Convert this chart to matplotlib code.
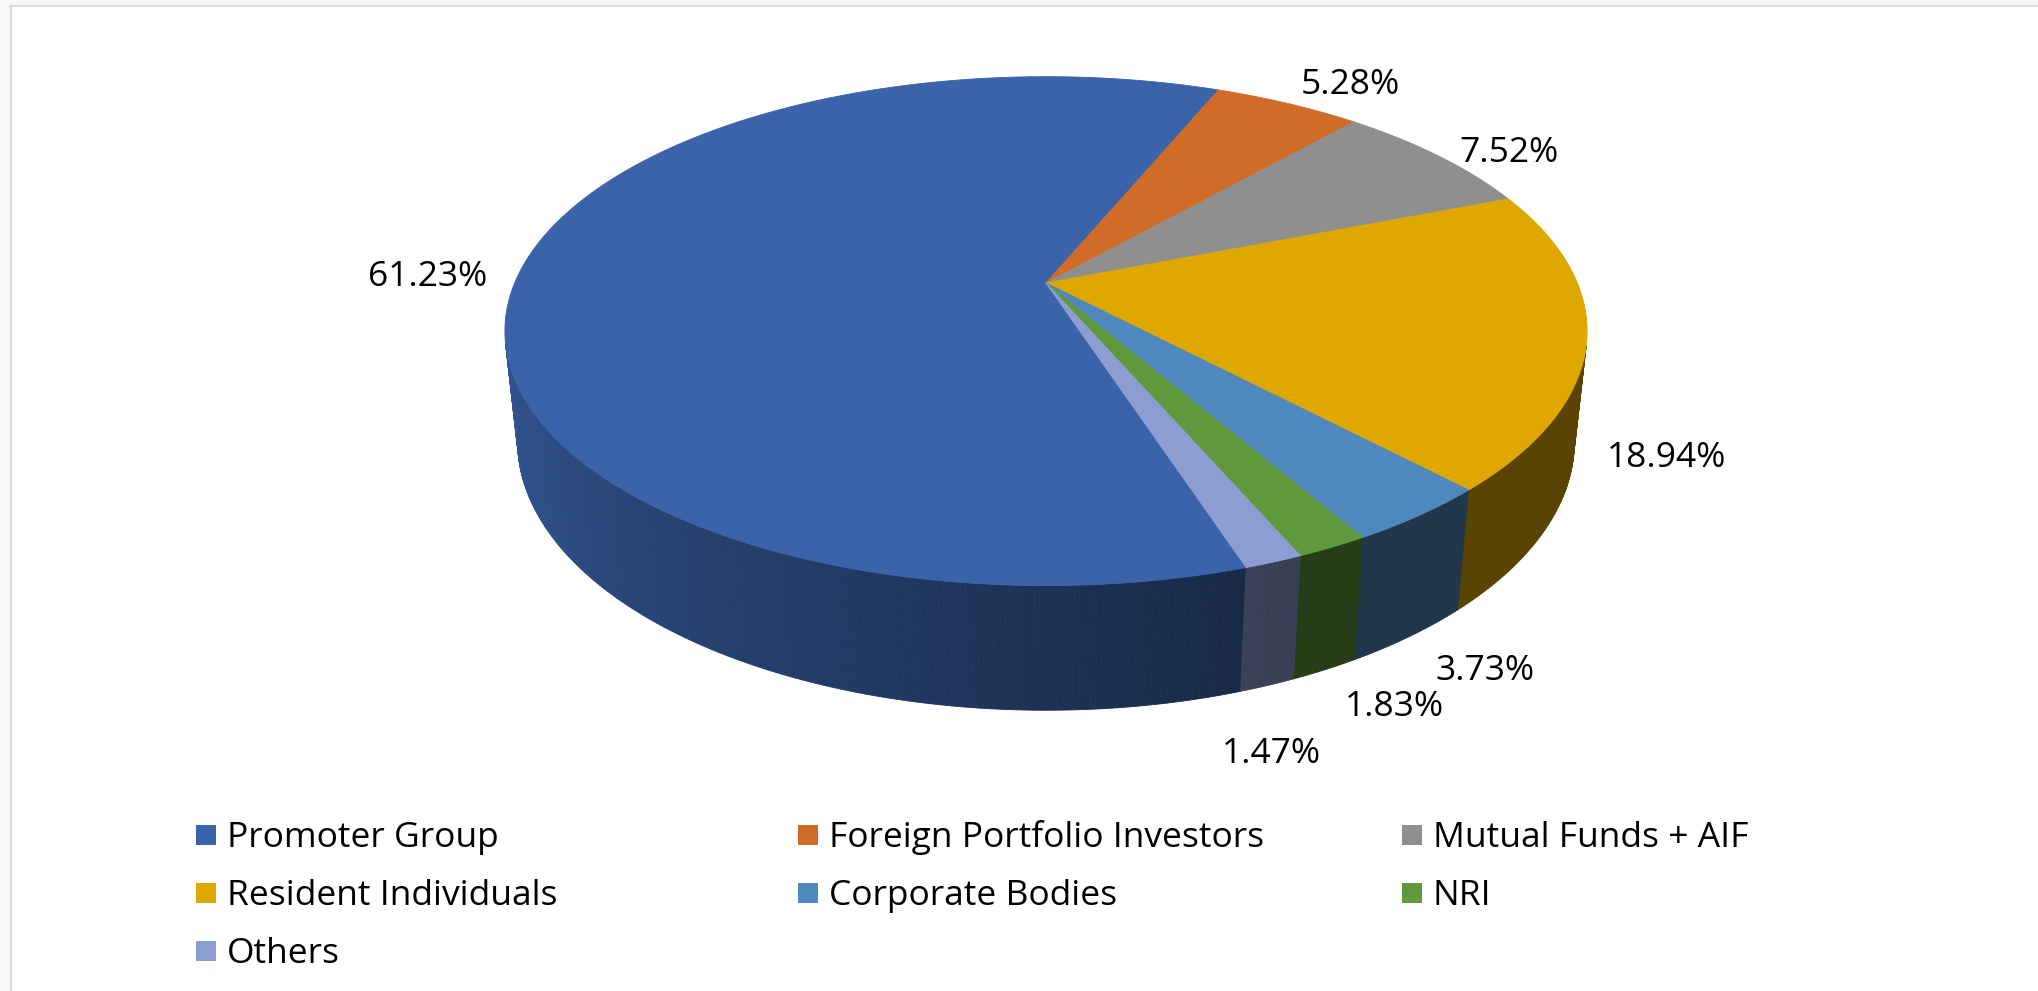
import numpy as np
import matplotlib
matplotlib.use('Agg')
import matplotlib.pyplot as plt
from matplotlib.collections import PolyCollection
from matplotlib.patches import Rectangle
from matplotlib.colors import to_rgb

# data
categories = ['Promoter Group', 'Foreign Portfolio Investors', 'Mutual Funds + AIF',
              'Resident Individuals', 'Corporate Bodies', 'NRI', 'Others']
shares = [61.23, 5.28, 7.52, 18.94, 3.73, 1.83, 1.47]
labels = ['61.23%', '5.28%', '7.52%', '18.94%', '3.73%', '1.83%', '1.47%']
colors = ['#3A63AA', '#D06C28', '#8F8F8F', '#DFA800', '#4E88BC', '#5F983D', '#8C9ED1']

# view of the 3d pie (unit radius disc, camera above and in front)
W, H = 2038, 991
CX, CY = 1046, 283
ELEV = np.radians(27.5)
DIST = 4.69
FOC = 2492.0
THICK = 0.2355
START = 162.0          # first slice, clockwise from 12 o'clock

cam = np.array([0.0, -DIST * np.cos(ELEV), DIST * np.sin(ELEV)])
fwd = np.array([0.0, np.cos(ELEV), -np.sin(ELEV)])
upv = np.array([0.0, np.sin(ELEV), np.cos(ELEV)])


def proj(phi_deg, r, z):
    phi = np.radians(np.asarray(phi_deg, dtype=float))
    x = r * np.sin(phi)
    y = r * np.cos(phi)
    z = np.broadcast_to(z, np.shape(phi)).astype(float)
    q = np.stack([x - cam[0], y - cam[1], z - cam[2]], axis=-1)
    depth = q @ fwd
    sx = FOC * q[..., 0] / depth
    sy = FOC * (q @ upv) / depth
    return CX + sx, CY - sy


def shade(phi):
    p = phi % 360
    return 0.40 + 0.50 * np.clip((p - 158) / 110.0, 0, 1)


plt.rcParams['font.family'] = ['Open Sans', 'DejaVu Sans']

fig = plt.figure(figsize=(W / 100, H / 100), dpi=100)
ax = fig.add_axes([0, 0, 1, 1])
ax.set_xlim(0, W)
ax.set_ylim(H, 0)
ax.axis('off')

# frame of the screenshot
ax.add_patch(Rectangle((0, 0), W, 5, color='#f6f6f6', lw=0))
ax.add_patch(Rectangle((0, 0), 10, H, color='#f8f8f8', lw=0))
ax.plot([10, W], [6, 6], color='#d9d9d9', lw=1.5)
ax.plot([11, 11], [6, H], color='#d9d9d9', lw=1.5)

total = sum(shares)
edges = START + 360.0 * np.concatenate([[0], np.cumsum(shares)]) / total
limit = -1.0 / (DIST * np.cos(ELEV))

# side walls
polys, fcs = [], []
for i in range(len(shares)):
    a, b = edges[i], edges[i + 1]
    steps = np.linspace(a, b, max(int((b - a) / 0.5), 2) + 1)
    base = np.array(to_rgb(colors[i]))
    for p1, p2 in zip(steps[:-1], steps[1:]):
        mid = 0.5 * (p1 + p2)
        if np.cos(np.radians(mid)) >= limit:
            continue
        xt, yt = proj([p1, p2], 1.0, 0.0)
        xb, yb = proj([p2, p1], 1.0, -THICK)
        polys.append(list(zip(np.r_[xt, xb], np.r_[yt, yb])))
        fcs.append(base * shade(mid))
ax.add_collection(PolyCollection(polys, facecolors=fcs, edgecolors=fcs, linewidths=0.6, zorder=1))

# top face
ax0, ay0 = proj(0.0, 0.0, 0.0)
tops = []
for i in range(len(shares)):
    arc = np.linspace(edges[i], edges[i + 1], 400)
    xs, ys = proj(arc, 1.0, 0.0)
    tops.append(list(zip(np.r_[ax0, xs], np.r_[ay0, ys])))
ax.add_collection(PolyCollection(tops, facecolors=colors, edgecolors=colors, linewidths=0.6, zorder=2))

# data labels, outside end
nudge = {6: (-62, 30)}
for i, lab in enumerate(labels):
    m = 0.5 * (edges[i] + edges[i + 1])
    s, c = np.sin(np.radians(m)), np.cos(np.radians(m))
    z = -THICK if c < 0 else 0.0
    lx, ly = proj(m, 1.06, z)
    ha = 'left' if s > 0.3 else ('right' if s < -0.3 else 'center')
    if c > 0.7:
        by = ly
    elif c < -0.7:
        by = ly + 26
    else:
        by = ly + 13
    dx, dy = nudge.get(i, (0, 0))
    ax.text(lx + dx, by + dy, lab, ha=ha, va='baseline', fontsize=25.5, color='black', zorder=3)

# legend, filled row by row
col_x = [196, 798, 1402]
row_y = [835, 893, 951]
for i, name in enumerate(categories):
    r, k = divmod(i, 3)
    ax.add_patch(Rectangle((col_x[k], row_y[r] - 10), 20, 20, color=colors[i], lw=0))
    ax.text(col_x[k] + 31, row_y[r] + 12, name, ha='left', va='baseline', fontsize=25.5, color='black')

fig.savefig('out.png', dpi=100, facecolor='white')
